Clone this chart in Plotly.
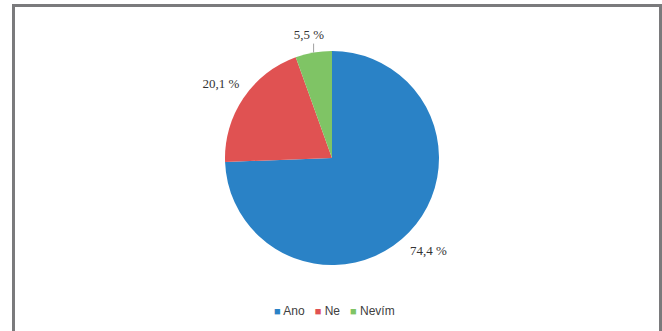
import math
import plotly.graph_objects as go

categories = ["Ano", "Ne", "Nevím"]
values = [74.4, 20.1, 5.5]
value_labels = ["74,4 %", "20,1 %", "&nbsp;<br>5,5 %"]
colors = ["#2a82c6", "#e05252", "#7fc465"]

W, H = 662, 331
CX, CY = 332, 158
R = 107          # pie radius (px)
R_LAB_OUT = 156  # invisible label ring
R_LAB_IN = 112

fig = go.Figure()
fig.add_trace(go.Pie(
    labels=categories,
    values=values,
    textinfo="none",
    sort=False,
    direction="clockwise",
    rotation=0,
    marker=dict(colors=colors, line=dict(width=0)),
    domain=dict(x=[(CX - R) / W, (CX + R) / W], y=[1 - (CY + R) / H, 1 - (CY - R) / H]),
    showlegend=False,
    hoverinfo="label+percent",
))
# transparent ring carrying the value labels
fig.add_trace(go.Pie(
    labels=categories,
    values=values,
    text=value_labels,
    textinfo="text",
    textposition="inside",
    insidetextorientation="horizontal",
    hole=R_LAB_IN / R_LAB_OUT,
    sort=False,
    direction="clockwise",
    rotation=0,
    marker=dict(colors=["rgba(0,0,0,0)"] * 3, line=dict(width=0)),
    insidetextfont=dict(family="Liberation Serif", size=13, color="#333333"),
    domain=dict(x=[(CX - R_LAB_OUT) / W, (CX + R_LAB_OUT) / W],
                y=[1 - (CY + R_LAB_OUT) / H, 1 - (CY - R_LAB_OUT) / H]),
    showlegend=False,
    hoverinfo="skip",
))

# leader line for the smallest slice (vertical, from the pie edge upward)
total = sum(values)
mid_frac = (total - values[-1] / 2) / total
ang = 2 * math.pi * mid_frac
lx = CX + R * math.sin(ang)
ly_edge = CY - math.sqrt(R ** 2 - (lx - CX) ** 2)
leader = dict(
    type="line", xref="paper", yref="paper",
    x0=lx / W, x1=lx / W, y0=1 - ly_edge / H, y1=1 - (ly_edge - 9) / H,
    line=dict(color="#a0a0a0", width=1),
)

legend_parts = []
for name, col in zip(categories, colors):
    legend_parts.append(
        f"<span style='color:{col};font-size:11px'>■</span> {name}"
    )
legend_text = "&nbsp;&nbsp;&nbsp;".join(legend_parts)

fig.update_layout(
    width=W, height=H,
    margin=dict(l=0, r=0, t=0, b=0),
    paper_bgcolor="white",
    plot_bgcolor="white",
    shapes=[dict(
        type="rect", xref="paper", yref="paper",
        x0=13.5 / W, x1=660.5 / W, y0=-0.1, y1=1 - 5.5 / H,
        line=dict(color="#7a7a7c", width=3),
        fillcolor="rgba(0,0,0,0)",
    ), leader],
    annotations=[dict(
        text=legend_text, xref="paper", yref="paper",
        x=335 / W, y=1 - 311 / H, xanchor="center", yanchor="middle",
        showarrow=False,
        font=dict(family="Liberation Sans", size=12, color="#404040"),
    )],
)

fig.write_html(
    "out.html",
    config={"displayModeBar": False},
    post_script="document.body.style.margin='0';document.body.style.overflow='hidden';",
)
